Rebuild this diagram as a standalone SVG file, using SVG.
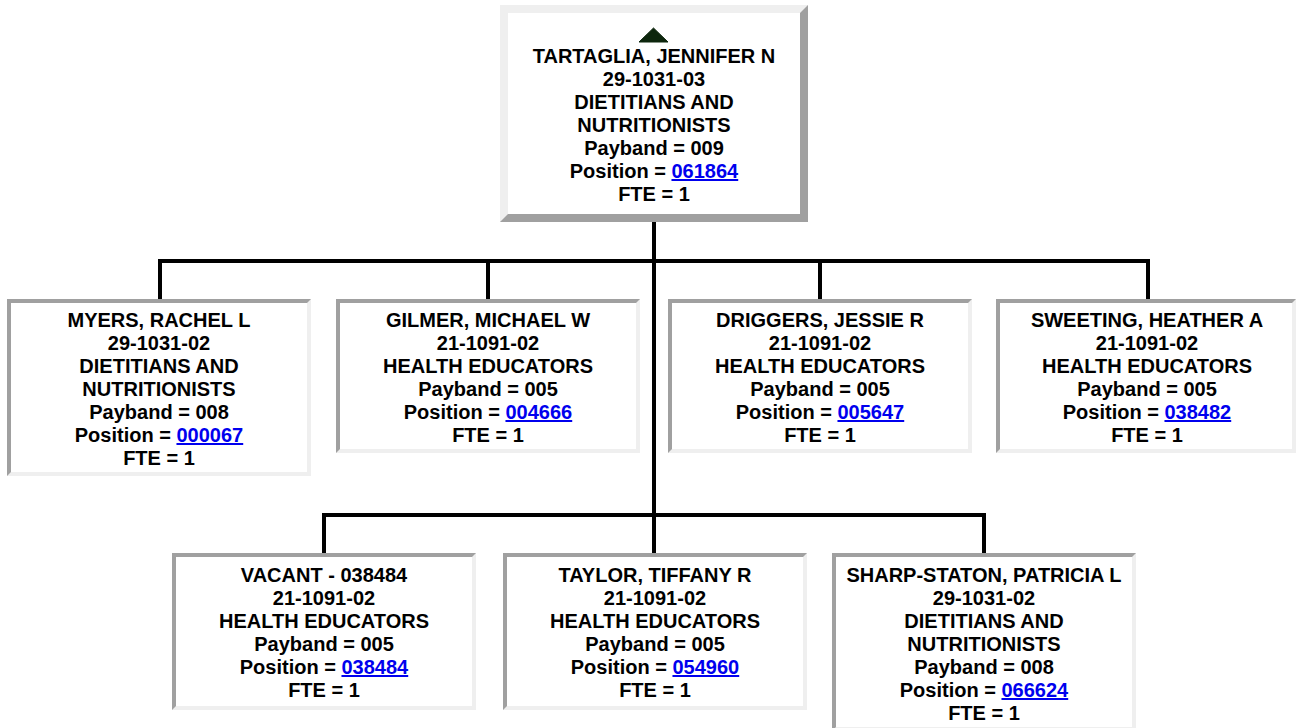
<svg xmlns="http://www.w3.org/2000/svg" width="1299" height="728" viewBox="0 0 1299 728">
<style>
.t{font-family:"Liberation Sans",Arial,sans-serif;font-weight:bold;font-size:20px;fill:#000;text-anchor:middle}
.lk{fill:#0000EE;text-decoration:underline}
.dk{fill:#a0a0a0}
.lt{fill:#efefef}
.in{fill:#fff}
.c{stroke:#000;stroke-width:4;fill:none}
</style>
<rect width="1299" height="728" fill="#fff"/>
<g id="connectors">
<line class="c" x1="654" y1="222" x2="654" y2="553"/>
<line class="c" x1="158" y1="261" x2="1150" y2="261"/>
<line class="c" x1="160" y1="259" x2="160" y2="299"/>
<line class="c" x1="488" y1="259" x2="488" y2="299"/>
<line class="c" x1="820" y1="259" x2="820" y2="299"/>
<line class="c" x1="1148" y1="259" x2="1148" y2="299"/>
<line class="c" x1="322" y1="515" x2="986" y2="515"/>
<line class="c" x1="324" y1="513" x2="324" y2="553"/>
<line class="c" x1="984" y1="513" x2="984" y2="553"/>
</g>
<g id="node-tartaglia">
<rect class="dk" x="500" y="5" width="308" height="217"/>
<path class="lt" d="M500,5 H808 L800,13 H508 V214 L500,222 Z"/>
<rect class="in" x="508" y="13" width="292" height="201"/>
<polygon points="639,42 668,42 653.5,28" fill="#0d260d" stroke="#0d260d" stroke-width="1" stroke-linejoin="round"/>
<text class="t" x="654" y="63">TARTAGLIA, JENNIFER N</text>
<text class="t" x="654" y="86">29-1031-03</text>
<text class="t" x="654" y="109">DIETITIANS AND</text>
<text class="t" x="654" y="132">NUTRITIONISTS</text>
<text class="t" x="654" y="155">Payband = 009</text>
<text class="t" x="654" y="178">Position = <tspan class="lk">061864</tspan></text>
<text class="t" x="654" y="201">FTE = 1</text>
</g>
<g id="node-myers">
<rect class="lt" x="7" y="299" width="304" height="177"/>
<path class="dk" d="M7,299 H311 L307,303 H11 V472 L7,476 Z"/>
<rect class="in" x="11" y="303" width="296" height="169"/>
<text class="t" x="159" y="327">MYERS, RACHEL L</text>
<text class="t" x="159" y="350">29-1031-02</text>
<text class="t" x="159" y="373">DIETITIANS AND</text>
<text class="t" x="159" y="396">NUTRITIONISTS</text>
<text class="t" x="159" y="419">Payband = 008</text>
<text class="t" x="159" y="442">Position = <tspan class="lk">000067</tspan></text>
<text class="t" x="159" y="465">FTE = 1</text>
</g>
<g id="node-gilmer">
<rect class="lt" x="336" y="299" width="304" height="154"/>
<path class="dk" d="M336,299 H640 L636,303 H340 V449 L336,453 Z"/>
<rect class="in" x="340" y="303" width="296" height="146"/>
<text class="t" x="488" y="327">GILMER, MICHAEL W</text>
<text class="t" x="488" y="350">21-1091-02</text>
<text class="t" x="488" y="373">HEALTH EDUCATORS</text>
<text class="t" x="488" y="396">Payband = 005</text>
<text class="t" x="488" y="419">Position = <tspan class="lk">004666</tspan></text>
<text class="t" x="488" y="442">FTE = 1</text>
</g>
<g id="node-driggers">
<rect class="lt" x="668" y="299" width="304" height="154"/>
<path class="dk" d="M668,299 H972 L968,303 H672 V449 L668,453 Z"/>
<rect class="in" x="672" y="303" width="296" height="146"/>
<text class="t" x="820" y="327">DRIGGERS, JESSIE R</text>
<text class="t" x="820" y="350">21-1091-02</text>
<text class="t" x="820" y="373">HEALTH EDUCATORS</text>
<text class="t" x="820" y="396">Payband = 005</text>
<text class="t" x="820" y="419">Position = <tspan class="lk">005647</tspan></text>
<text class="t" x="820" y="442">FTE = 1</text>
</g>
<g id="node-sweeting">
<rect class="lt" x="996" y="299" width="300" height="154"/>
<path class="dk" d="M996,299 H1296 L1292,303 H1000 V449 L996,453 Z"/>
<rect class="in" x="1000" y="303" width="292" height="146"/>
<text class="t" x="1147" y="327">SWEETING, HEATHER A</text>
<text class="t" x="1147" y="350">21-1091-02</text>
<text class="t" x="1147" y="373">HEALTH EDUCATORS</text>
<text class="t" x="1147" y="396">Payband = 005</text>
<text class="t" x="1147" y="419">Position = <tspan class="lk">038482</tspan></text>
<text class="t" x="1147" y="442">FTE = 1</text>
</g>
<g id="node-vacant">
<rect class="lt" x="172" y="553" width="304" height="157"/>
<path class="dk" d="M172,553 H476 L472,557 H176 V706 L172,710 Z"/>
<rect class="in" x="176" y="557" width="296" height="149"/>
<text class="t" x="324" y="582">VACANT - 038484</text>
<text class="t" x="324" y="605">21-1091-02</text>
<text class="t" x="324" y="628">HEALTH EDUCATORS</text>
<text class="t" x="324" y="651">Payband = 005</text>
<text class="t" x="324" y="674">Position = <tspan class="lk">038484</tspan></text>
<text class="t" x="324" y="697">FTE = 1</text>
</g>
<g id="node-taylor">
<rect class="lt" x="503" y="553" width="304" height="157"/>
<path class="dk" d="M503,553 H807 L803,557 H507 V706 L503,710 Z"/>
<rect class="in" x="507" y="557" width="296" height="149"/>
<text class="t" x="655" y="582">TAYLOR, TIFFANY R</text>
<text class="t" x="655" y="605">21-1091-02</text>
<text class="t" x="655" y="628">HEALTH EDUCATORS</text>
<text class="t" x="655" y="651">Payband = 005</text>
<text class="t" x="655" y="674">Position = <tspan class="lk">054960</tspan></text>
<text class="t" x="655" y="697">FTE = 1</text>
</g>
<g id="node-sharp-staton">
<rect class="lt" x="832" y="553" width="304" height="178"/>
<path class="dk" d="M832,553 H1136 L1132,557 H836 V727 L832,731 Z"/>
<rect class="in" x="836" y="557" width="296" height="170"/>
<text class="t" x="984" y="582">SHARP-STATON, PATRICIA L</text>
<text class="t" x="984" y="605">29-1031-02</text>
<text class="t" x="984" y="628">DIETITIANS AND</text>
<text class="t" x="984" y="651">NUTRITIONISTS</text>
<text class="t" x="984" y="674">Payband = 008</text>
<text class="t" x="984" y="697">Position = <tspan class="lk">066624</tspan></text>
<text class="t" x="984" y="720">FTE = 1</text>
</g>
</svg>
